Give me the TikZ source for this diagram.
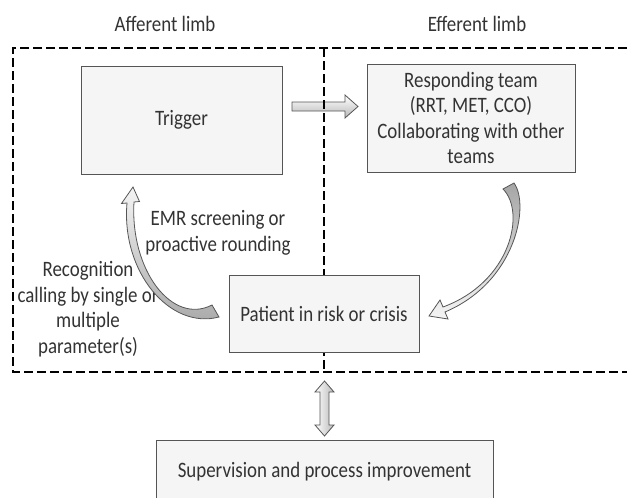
\documentclass[tikz,border=0pt]{standalone}
\usepackage{fontspec}
\setmainfont{Carlito}[FakeStretch=0.86]
\definecolor{txt}{HTML}{333333}
\definecolor{boxfill}{HTML}{F5F5F5}
\definecolor{boxline}{HTML}{555555}
\definecolor{arrline}{HTML}{555555}
\tikzset{
  box/.style={draw=boxline, line width=1pt, fill=boxfill, text=txt, align=center,
    inner sep=0pt, font=\fontsize{22}{25.5}\selectfont},
  lbl/.style={text=txt, align=center, inner sep=0pt, font=\fontsize{22}{25.5}\selectfont},
  frameline/.style={line width=2.6pt, dash pattern=on 9pt off 4pt, black},
  blockh/.style={draw=arrline, line width=0.8pt, line join=miter, top color=white, bottom color=gray!55},
  blockv/.style={draw=arrline, line width=0.8pt, line join=miter, left color=white, right color=gray!55},
  curvup/.style={draw=arrline, line width=0.8pt, line join=miter, top color=gray!8, bottom color=gray!70},
  curvdown/.style={draw=arrline, line width=0.8pt, line join=miter, top color=gray!70, bottom color=gray!8},
}
\begin{document}
\begin{tikzpicture}[x=1pt,y=-1pt]
\useasboundingbox (0,0) rectangle (627,498);

% straight arrow Trigger -> Responding team
\draw[blockh] (292,102) -- (345,102) -- (345,95) -- (358,106.5) -- (345,118) -- (345,111) -- (292,111) -- cycle;

% dashed frame and divider
\coordinate (ftr) at (640,48);
\coordinate (ftl) at (13,48);
\coordinate (fbl) at (13,372);
\coordinate (fbr) at (640,372);
\coordinate (dtop) at (324,48);
\coordinate (dbot) at (324,372);
\draw[frameline] (ftr) -- (ftl) -- (fbl) -- (fbr);
\draw[frameline] (dtop) -- (dbot);

% labels
\node[lbl] (aff) at (165,24) {Afferent limb};
\node[lbl] (eff) at (477,24) {Efferent limb};
\node[lbl] (emr) at (218,233) {EMR screening or\\proactive rounding};
\node[lbl] (rec) at (88,309) {Recognition\\calling by single or\\multiple\\parameter(s)};

% curved arrow Patient -> Trigger
\draw[curvup] (219,317) .. controls (170,330) and (121,272) .. (127,203)
  -- (121.5,203.5) -- (133,187) -- (139.5,201.5) -- (134,202)
  .. controls (130,270) and (172,325.5) .. (212,305) -- cycle;

% curved arrow Responding team -> Patient
\draw[curvdown] (514,183) .. controls (530,205) and (516,282) .. (445,312)
  -- (448,319) -- (429,316) -- (440,300) -- (443,307)
  .. controls (511,282) and (526,212) .. (503,189) -- cycle;

% double arrow frame <-> supervision
\draw[blockv] (324.5,381) -- (334,392) -- (329,392) -- (329,425) -- (334,425) -- (324.5,436)
  -- (315,425) -- (320,425) -- (320,392) -- (315,392) -- cycle;

% boxes
\node[box, minimum width=201pt, minimum height=108pt] (trig) at (181.5,120) {Trigger};
\node[box, minimum width=208pt, minimum height=108pt] (resp) at (471,118)
  {Responding team\\(RRT, MET, CCO)\\Collaborating with other\\teams};
\node[box, minimum width=190pt, minimum height=77pt] (pat) at (324,313.5) {Patient in risk or crisis};
\node[box, minimum width=337pt, minimum height=64pt] (sup) at (324.5,472) {Supervision and process improvement};
\end{tikzpicture}
\end{document}
